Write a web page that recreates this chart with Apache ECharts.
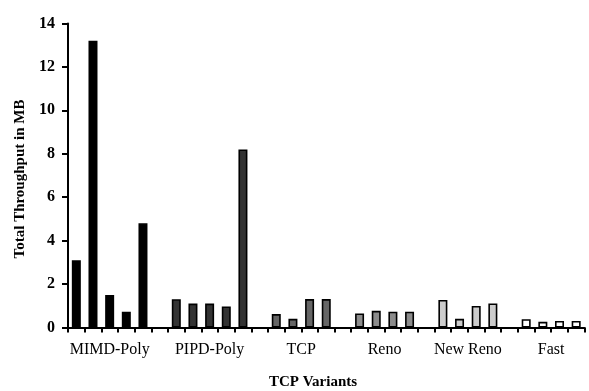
<!DOCTYPE html>
<html>
<head>
<meta charset="utf-8">
<script src="https://cdn.jsdelivr.net/npm/echarts@6/dist/echarts.min.js"></script>
<style>
  html, body { margin: 0; padding: 0; background: #fff; }
  #chart { width: 589px; height: 391px; }
</style>
</head>
<body>
<div id="chart"></div>
<script>
// Throughput per run, grouped by TCP variant
const groups = ['MIMD-Poly', 'PIPD-Poly', 'TCP', 'Reno', 'New Reno', 'Fast'];
const mimdPoly = [3.1, 13.2, 1.5, 0.73, 4.8];
const pipdPoly = [1.3, 1.1, 1.1, 0.97, 8.2];
const tcp      = [0.62, 0.4, 1.31, 1.31];
const reno     = [0.65, 0.77, 0.73, 0.73];
const newReno  = [1.27, 0.4, 0.99, 1.11];
const fast     = [0.38, 0.26, 0.3, 0.3];
const groupValues = [mimdPoly, pipdPoly, tcp, reno, newReno, fast];
const groupFills = ['#000000', '#333333', '#666666', '#8c8c8c', '#cccccc', '#ffffff'];
const yTicks = [0, 2, 4, 6, 8, 10, 12, 14];

const FONT = '"Liberation Serif", "Times New Roman", serif';

// Lay the groups out on one category axis, with an empty slot between groups
const slots = [];
const barData = [];
const groupCenters = [];
groupValues.forEach((vals, g) => {
  if (g > 0) { slots.push('gap' + g); barData.push('-'); }
  const start = slots.length;
  vals.forEach((v, i) => {
    slots.push(groups[g] + ' ' + (i + 1));
    barData.push({
      value: v,
      itemStyle: { color: groupFills[g], borderColor: '#000', borderWidth: 1.6 }
    });
  });
  groupCenters.push(start + vals.length / 2);
});
const slotCount = slots.length;

const chart = echarts.init(document.getElementById('chart'), null, { renderer: 'canvas' });
chart.setOption({
  animation: false,
  backgroundColor: '#fff',
  grid: { left: 68, right: 4.5, top: 23.5, bottom: 63.5, containLabel: false },
  xAxis: [
    {
      type: 'category',
      data: slots,
      boundaryGap: true,
      axisLine: { lineStyle: { color: '#000', width: 2 } },
      axisTick: { show: true, interval: 0, length: 5, lineStyle: { color: '#000', width: 2 } },
      axisLabel: { show: false },
      splitLine: { show: false }
    },
    {
      type: 'value',
      position: 'bottom',
      min: 0,
      max: slotCount,
      axisLine: { show: false },
      axisTick: { show: false },
      splitLine: { show: false },
      axisLabel: {
        customValues: groupCenters,
        margin: 14,
        color: '#000',
        fontFamily: FONT,
        fontSize: 16,
        formatter: function (val) {
          const idx = groupCenters.findIndex(c => Math.abs(c - val) < 1e-6);
          return idx >= 0 ? groups[idx] : '';
        }
      }
    }
  ],
  yAxis: {
    type: 'value',
    min: yTicks[0],
    max: yTicks[yTicks.length - 1],
    interval: 2,
    axisLine: { show: true, lineStyle: { color: '#000', width: 2 } },
    axisTick: { show: true, length: 6, lineStyle: { color: '#000', width: 2 } },
    axisLabel: {
      margin: 13,
      color: '#000',
      fontFamily: FONT,
      fontSize: 16,
      fontWeight: 'bold'
    },
    splitLine: { show: false }
  },
  graphic: [
    {
      type: 'text',
      x: 20, y: 179,
      rotation: Math.PI / 2,
      style: {
        text: 'Total Throughput in MB',
        fontFamily: FONT, fontSize: 15, fontWeight: 'bold',
        fill: '#000', align: 'center', verticalAlign: 'middle'
      }
    },
    {
      type: 'text',
      x: 313, y: 382,
      style: {
        text: 'TCP Variants',
        fontFamily: FONT, fontSize: 15, fontWeight: 'bold',
        fill: '#000', align: 'center', verticalAlign: 'middle'
      }
    }
  ],
  series: [
    {
      type: 'bar',
      xAxisIndex: 0,
      barWidth: 9,
      data: barData
    }
  ]
});
</script>
</body>
</html>
